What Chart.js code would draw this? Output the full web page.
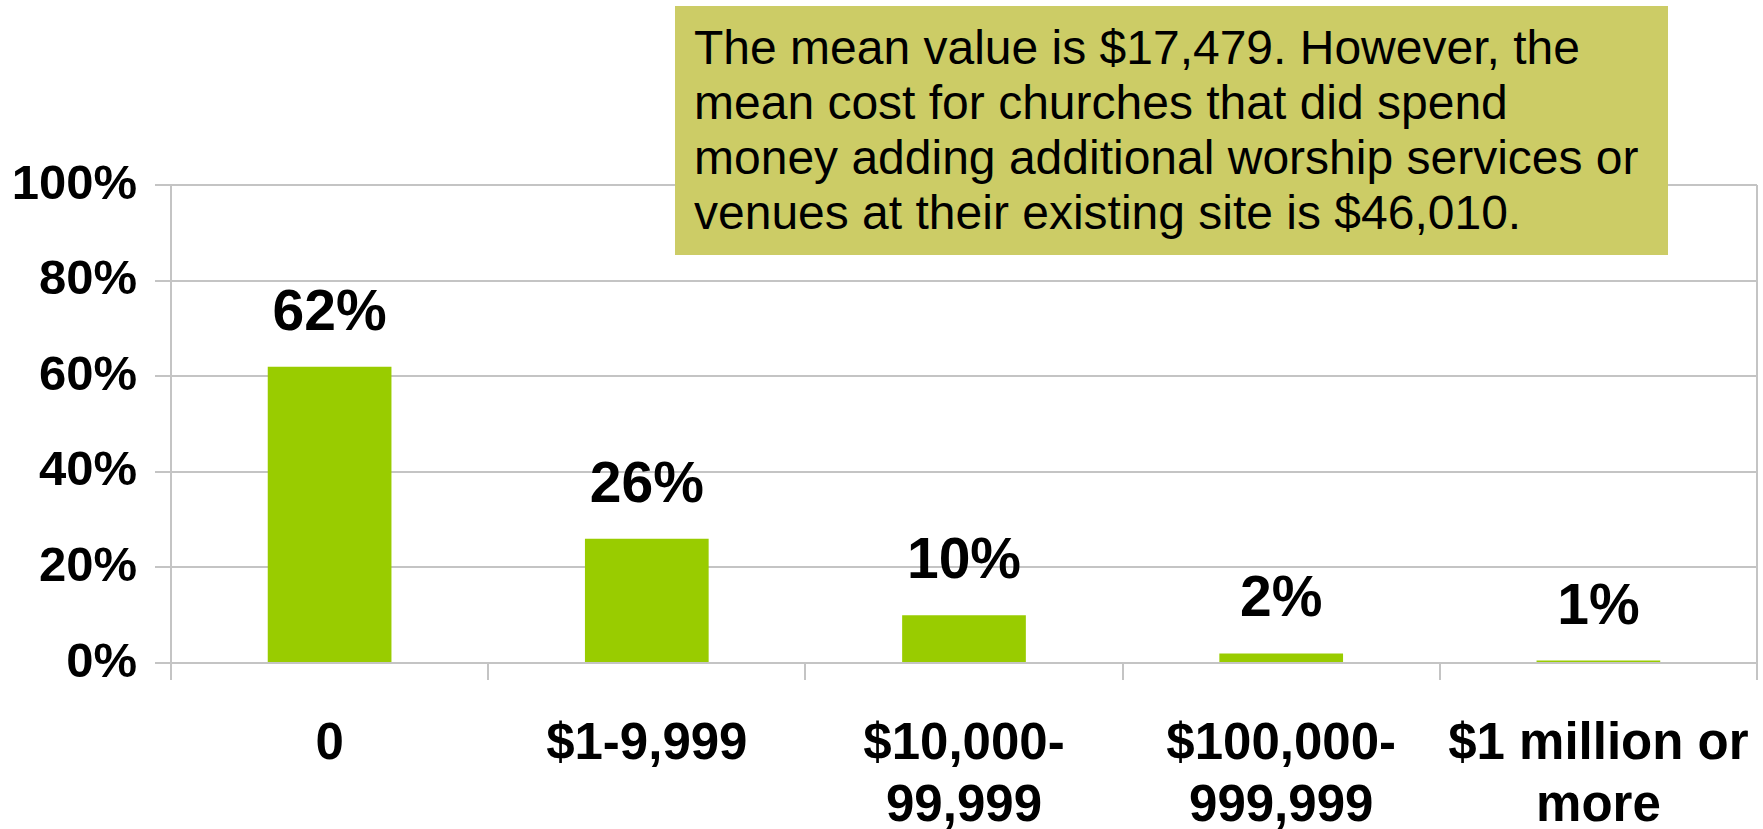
<!DOCTYPE html>
<html>
<head>
<meta charset="utf-8">
<script src="https://cdn.jsdelivr.net/npm/chart.js@4/dist/chart.umd.min.js"></script>
<style>
  html, body { margin: 0; padding: 0; background: #fff; }
  #wrap { position: relative; width: 1763px; height: 829px; }
  #note {
    position: absolute; left: 675px; top: 6px; width: 974px; height: 235px;
    padding: 14px 0 0 19px;
    background: #cccc66; color: #000;
    font-family: "Liberation Sans", Arial, sans-serif; font-size: 48px; line-height: 55px;
  }
</style>
</head>
<body>
<div id="wrap">
  <canvas id="costChart" width="1763" height="829"></canvas>
  <div id="note">The mean value is $17,479. However, the<br>mean cost for churches that did spend<br>money adding additional worship services or<br>venues at their existing site is $46,010.</div>
</div>
<script>
// Chart data
const categories = ['0', '$1-9,999', ['$10,000-', '99,999'], ['$100,000-', '999,999'], ['$1 million or', 'more']];
const shares = [62, 26, 10, 2, 0.5];
const yTicks = [0, 20, 40, 60, 80, 100];

const gridGray = '#c4c4c4';
const barGreen = '#99cc00';
const fontFam = '"Liberation Sans", Arial, sans-serif';

// Draw the % labels above each bar
const valueLabels = {
  id: 'valueLabels',
  afterDatasetsDraw(chart) {
    const ctx = chart.ctx;
    const meta = chart.getDatasetMeta(0);
    ctx.save();
    ctx.font = 'bold 57px ' + fontFam;
    ctx.fillStyle = '#000';
    ctx.textAlign = 'center';
    ctx.textBaseline = 'alphabetic';
    meta.data.forEach((bar, i) => {
      ctx.fillText(Math.round(shares[i]) + '%', bar.x, bar.y - 37);
    });
    ctx.restore();
  }
};

// Right-hand border of the plot area
const plotBorder = {
  id: 'plotBorder',
  beforeDatasetsDraw(chart) {
    const a = chart.chartArea;
    const ctx = chart.ctx;
    ctx.save();
    ctx.strokeStyle = gridGray;
    ctx.lineWidth = 2;
    ctx.beginPath();
    ctx.moveTo(a.right, a.top);
    ctx.lineTo(a.right, a.bottom);
    ctx.stroke();
    ctx.restore();
  }
};

new Chart(document.getElementById('costChart'), {
  type: 'bar',
  data: {
    labels: categories,
    datasets: [{
      data: shares,
      backgroundColor: barGreen,
      borderWidth: 0,
      categoryPercentage: 1,
      barPercentage: 0.39
    }]
  },
  options: {
    responsive: false,
    animation: false,
    layout: {
      padding: { top: 185, left: 0, right: 6, bottom: 0 }
    },
    plugins: {
      legend: { display: false },
      tooltip: { enabled: false }
    },
    scales: {
      y: {
        min: 0,
        max: 100,
        afterBuildTicks(axis) {
          axis.ticks = yTicks.map(v => ({ value: v }));
        },
        afterFit(axis) {
          axis.width = 171;
        },
        ticks: {
          callback: v => v + '%',
          color: '#000',
          padding: 18,
          font: { family: fontFam, size: 49, weight: 'bold' }
        },
        grid: { color: gridGray, lineWidth: 2, tickLength: 16 },
        border: { color: gridGray, width: 2 }
      },
      x: {
        offset: true,
        afterFit(axis) {
          axis.height = 166;
          axis.paddingLeft = 0;
          axis.paddingRight = 0;
        },
        grid: { display: true, drawOnChartArea: false, color: gridGray, lineWidth: 2, tickLength: 17, offset: true },
        border: { color: gridGray, width: 2 },
        ticks: {
          color: '#000',
          maxRotation: 0,
          autoSkip: false,
          padding: 34,
          font: { family: fontFam, size: 51, weight: 'bold', lineHeight: 1.22 }
        }
      }
    }
  },
  plugins: [valueLabels, plotBorder]
});
</script>
</body>
</html>
